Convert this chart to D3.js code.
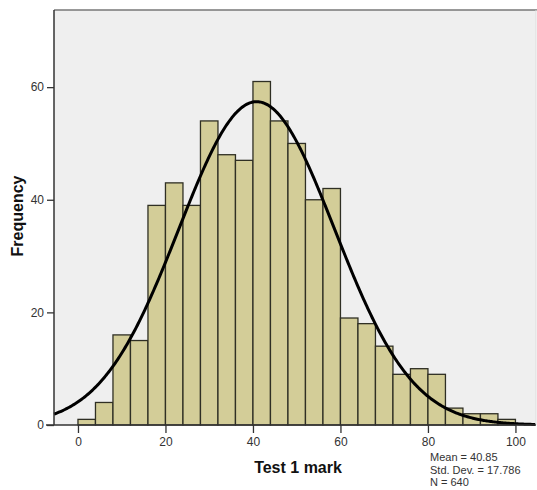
<!DOCTYPE html>
<html><head><meta charset="utf-8">
<script src="https://cdn.jsdelivr.net/npm/d3@7"></script>
<style>body{margin:0;background:#fff}svg{display:block;font-family:"Liberation Sans",Arial,sans-serif}</style>
</head><body><svg id="c" width="537" height="490"></svg>
<script>
const binStarts = [0,4,8,12,16,20,24,28,32,36,40,44,48,52,56,60,64,68,72,76,80,84,88,92,96];
const binWidth = 4;
const counts = [1,4,16,15,39,43,39,54,48,47,61,54,50,40,42,19,18,14,9,10,9,3,2,2,1];
const xTicks = [0,20,40,60,80,100];
const yTicks = [0,20,40,60];
const stats = {mean:40.85, sd:17.786, n:640};
const statLines = ["Mean = 40.85","Std. Dev. = 17.786","N = 640"];

const svg = d3.select("#c");
const L=54,R=536,T=10,B=425;
const x = d3.scaleLinear().domain([-5.48,104.7]).range([L,R]);
const y = d3.scaleLinear().domain([0,73.7]).range([B,T]);

svg.append("rect").attr("x",L).attr("y",T).attr("width",R-L).attr("height",B-T).attr("fill","#efefef");
svg.append("line").attr("x1",L).attr("x2",R+1).attr("y1",T).attr("y2",T).attr("stroke","#777").attr("stroke-width",1.5);
svg.append("line").attr("x1",R).attr("x2",R).attr("y1",T).attr("y2",B).attr("stroke","#ddd").attr("stroke-width",1);

svg.append("g").selectAll("rect").data(counts).join("rect")
  .attr("x",(d,i)=>x(binStarts[i]))
  .attr("width",(d,i)=>x(binStarts[i]+binWidth)-x(binStarts[i]))
  .attr("y",d=>y(d)).attr("height",d=>y(0)-y(d))
  .attr("fill","#d3cd98").attr("stroke","#2f2f24").attr("stroke-width",1.3);

// normal curve from stats
const pts = d3.range(-5.48,104.71,0.25).map(v=>[v, stats.n*binWidth/(stats.sd*Math.sqrt(2*Math.PI))*Math.exp(-0.5*((v-stats.mean)/stats.sd)**2)]);
svg.append("path").datum(pts).attr("fill","none").attr("stroke","#000").attr("stroke-width",3)
  .attr("d",d3.line().x(d=>x(d[0])).y(d=>y(d[1])));

// axes
const xa = svg.append("g").attr("transform",`translate(0,${B})`)
  .call(d3.axisBottom(x).tickValues(xTicks).tickSize(8).tickSizeOuter(0).tickPadding(4));
xa.select(".domain").remove();
svg.append("line").attr("x1",L-8).attr("x2",R).attr("y1",B).attr("y2",B).attr("stroke","#333").attr("stroke-width",1.5);
const ya = svg.append("g").attr("transform",`translate(${L},0)`)
  .call(d3.axisLeft(y).tickValues(yTicks).tickSize(7).tickSizeOuter(0).tickPadding(3));
ya.select(".domain").remove();
svg.append("line").attr("x1",L).attr("x2",L).attr("y1",T).attr("y2",B).attr("stroke","#333").attr("stroke-width",1.5);
svg.selectAll(".tick line").attr("stroke","#333").attr("stroke-width",1.3);
svg.selectAll(".tick text").attr("fill","#333").style("font-size","12px").style("font-family","Liberation Sans, Arial, sans-serif");

svg.append("text").attr("x",298).attr("y",473).attr("text-anchor","middle")
  .style("font-size","16px").style("font-weight","bold").attr("fill","#111").text("Test 1 mark");
svg.append("text").attr("transform","translate(23,216) rotate(-90)").attr("text-anchor","middle")
  .style("font-size","16px").style("font-weight","bold").attr("fill","#111").text("Frequency");

svg.append("g").selectAll("text").data(statLines).join("text")
  .attr("x",430).attr("y",(d,i)=>461+i*12.7)
  .style("font-size","11px").attr("fill","#333").text(d=>d);
</script></body></html>
